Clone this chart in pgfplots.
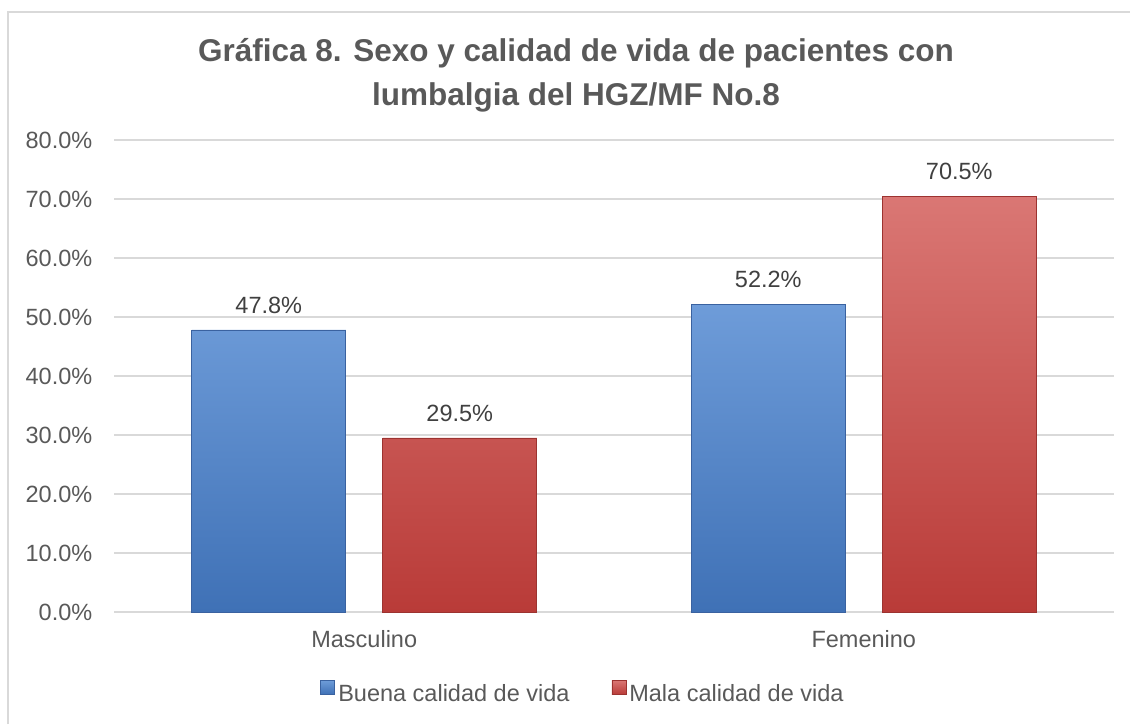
\documentclass[border=0pt]{standalone}
\usepackage{pgfplots}
\pgfplotsset{compat=1.18}
\usepackage{fontspec}
\setmainfont{Liberation Sans}
\definecolor{txt}{HTML}{595959}
\definecolor{lab}{HTML}{404040}
\definecolor{gridc}{HTML}{D9D9D9}
\definecolor{frame}{HTML}{D9D9D9}
\definecolor{blueT}{HTML}{6E9CD9}
\definecolor{blueB}{HTML}{3F71B6}
\definecolor{blueE}{HTML}{3A62A0}
\definecolor{redT}{HTML}{DA7774}
\definecolor{redB}{HTML}{B93B38}
\definecolor{redE}{HTML}{9C3330}
\begin{document}
\begin{tikzpicture}[x=1pt,y=1pt]
\path[use as bounding box] (0,0) rectangle (1130,724);
\draw[color=frame, line width=2pt] (8,0) -- (8,712) -- (1130,712);
\node[anchor=base, font=\bfseries\fontsize{31.5}{36}\selectfont, text=txt, inner sep=0] at (576,662) {Gráfica 8. Sexo y calidad de vida de pacientes con};
\node[anchor=base, font=\bfseries\fontsize{31.5}{36}\selectfont, text=txt, inner sep=0] at (576,618) {lumbalgia del HGZ/MF No.8};
\begin{axis}[
  scale only axis,
  width=999pt, height=472pt,
  at={(114.5pt,112pt)}, anchor=south west,
  xmin=-0.5, xmax=1.5, ymin=0, ymax=80,
  xtick={0,1}, xticklabels={Masculino,Femenino},
  ytick={0,10,...,80},
  ymajorgrids, grid style={color=gridc, line width=1.2pt},
  axis line style={draw=none},
  major tick length=0pt,
  tick label style={font=\fontsize{23.5}{28}\selectfont, text=txt},
  /pgf/number format/assume math mode=true,
  yticklabel={\pgfmathprintnumber[fixed,fixed zerofill,precision=1]{\tick}\%},
  yticklabel style={anchor=east, inner sep=0pt, xshift=-22pt},
  xticklabel style={anchor=base, inner sep=0pt, yshift=-35pt},
  ybar, bar width=154pt,
  nodes near coords={\pgfmathprintnumber[fixed,fixed zerofill,precision=1]{\pgfplotspointmeta}\%},
  nodes near coords style={font=\fontsize{23.5}{28}\selectfont, text=lab, anchor=base, inner sep=0pt, yshift=16.5pt},
  clip=false,
  legend columns=2,
  legend style={at={(0.469,-0.17)}, anchor=center, draw=none, fill=none,
    font=\fontsize{23.5}{28}\selectfont, text=txt,
    /tikz/every even column/.append style={column sep=40pt}},
  legend image code/.code={\fill[#1] (0pt,-1pt) rectangle (14pt,13pt); \path (15pt,0pt);},
]
\addplot[bar shift=-95.5pt, top color=blueT, bottom color=blueB, draw=blueE, line width=0.8pt]
  coordinates {(0,47.8) (1,52.2)};
\addplot[bar shift=95.5pt, top color=redT, bottom color=redB, draw=redE, line width=0.8pt]
  coordinates {(0,29.5) (1,70.5)};
\legend{Buena calidad de vida, Mala calidad de vida}
\end{axis}
\end{tikzpicture}
\end{document}
